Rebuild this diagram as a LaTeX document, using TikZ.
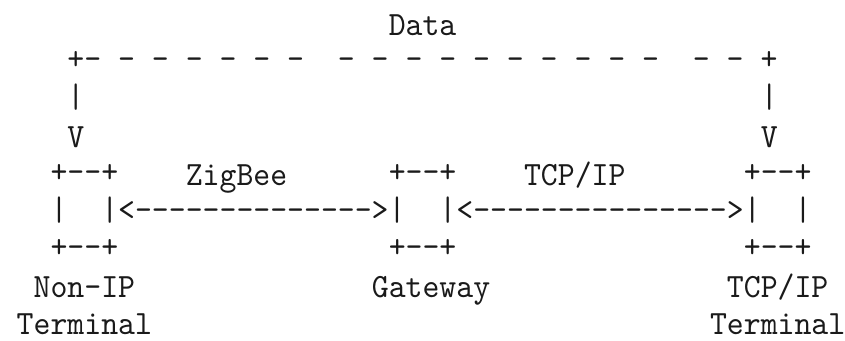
\documentclass[tikz,border=0pt]{standalone}
\usepackage{fontspec}
% monospaced face, narrowed so one character cell is 16.91pt wide
\newfontfamily\asciifont[FakeStretch=0.947,Ligatures=TeXOff]{lmmono10-regular.otf}
\definecolor{ink}{HTML}{1A1A1A}
\tikzset{
  txt/.style={anchor=base west, inner sep=0pt, outer sep=0pt,
    font=\asciifont\fontsize{34}{40}\selectfont, text=ink},
}
\begin{document}
\begin{tikzpicture}[x=1pt,y=-1pt]
\useasboundingbox (0,0) rectangle (845,340);
% x counts character columns, y is the baseline in pt from the top
\begin{scope}[shift={(50.55pt,0pt)}, x=16.91pt, y=-1pt]
  \node[txt] (data) at (20,35) {Data};
  \node[txt] (bus) at (1,69.6)
    {+-~-~-~-~-~-~-~~-~-~-~-~-~-~-~-~-~-~~-~-~+};
  \node[txt] (barL) at (1,107.2) {|};
  \node[txt] (barR) at (42,107.2) {|};
  \node[txt] (downL) at (1,147.8) {V};
  \node[txt] (downR) at (42,147.8) {V};
  % boxes, top edges and link names
  \node[txt] (ntop) at (0,182.5) {+--+};
  \node[txt] (zig) at (8,185.5) {ZigBee};
  \node[txt] (gtop) at (20,182.5) {+--+};
  \node[txt] (tcp) at (28,185.5) {TCP/IP};
  \node[txt] (ttop) at (41,182.5) {+--+};
  % box sides and the two links
  \node[txt] (nside) at (0,220) {|};
  \node[txt] (zlink) at (3,220) {|<-------------->|};
  \node[txt] (tlink) at (23,220) {|<--------------->|};
  \node[txt] (tside) at (44,220) {|};
  % bottom edges
  \node[txt] (nbot) at (0,257.6) {+--+};
  \node[txt] (gbot) at (20,257.6) {+--+};
  \node[txt] (tbot) at (41,257.6) {+--+};
  % labels under the boxes
  \node[txt] (nlab) at (-1,297.5) {Non-IP};
  \node[txt] (glab) at (19,297.5) {Gateway};
  \node[txt] (tlab) at (40,297.5) {TCP/IP};
  \node[txt] (nlab2) at (-2,334.5) {Terminal};
  \node[txt] (tlab2) at (39,334.5) {Terminal};
\end{scope}
\end{tikzpicture}
\end{document}
